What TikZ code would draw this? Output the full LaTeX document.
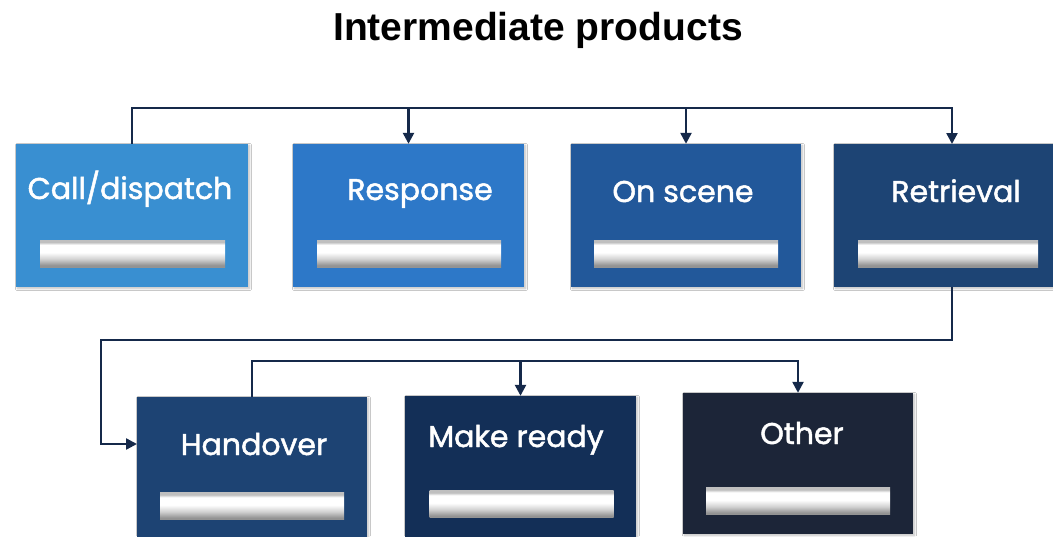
\documentclass[tikz,border=0pt]{standalone}
\usepackage{fontspec}
\setmainfont{Liberation Sans}
\newfontfamily\boxfont{Poppins}[FakeBold=1.6]
\usetikzlibrary{arrows.meta,shadows.blur}
\definecolor{cA}{HTML}{398FD1}
\definecolor{cB}{HTML}{2D78C8}
\definecolor{cC}{HTML}{22589A}
\definecolor{cD}{HTML}{1D4474}
\definecolor{cE}{HTML}{1D4373}
\definecolor{cF}{HTML}{132F57}
\definecolor{cG}{HTML}{1C2538}
\definecolor{conncol}{HTML}{15294A}
\pgfdeclareverticalshading{barshade}{100bp}{color(0bp)=(gray!85); color(28bp)=(gray!85); color(40bp)=(gray!35); color(52bp)=(white); color(66bp)=(white); color(71bp)=(gray!50); color(100bp)=(gray!50)}
\tikzset{
  box/.style={draw=none, inner sep=0pt, blur shadow={shadow xshift=1.5pt, shadow yshift=-1.5pt, shadow opacity=25, shadow blur steps=6}},
  lbl/.style={text=white, inner sep=0pt, anchor=base, font=\boxfont\fontsize{30}{34}\selectfont},
  bar/.style={draw=none, inner sep=0pt, minimum height=27pt, shading=barshade},
  conn/.style={draw=conncol, line width=2.4pt},
  tip/.style={-{Triangle[length=11pt,width=11pt]}}
}
\begin{document}
\begin{tikzpicture}[x=1pt,y=1pt]
\useasboundingbox[fill=white] (0,0) rectangle (1053,-536);
\node[inner sep=0pt, anchor=base, font=\bfseries\fontsize{39}{44}\selectfont] (title) at (538,-40) {Intermediate products};
% top row boxes
\node[box, fill=cA, minimum width=232pt, minimum height=143pt] (call) at (132,-215.5) {};
\node[box, fill=cB, minimum width=231pt, minimum height=143pt] (resp) at (408.5,-215.5) {};
\node[box, fill=cC, minimum width=230pt, minimum height=143pt] (onsc) at (686,-215.5) {};
\node[box, fill=cD, minimum width=222pt, minimum height=143pt] (retr) at (945,-215.5) {};
% bottom row boxes
\node[box, fill=cE, minimum width=230pt, minimum height=146pt] (hand) at (252,-470) {};
\node[box, fill=cF, minimum width=231pt, minimum height=147pt] (make) at (520.5,-469.5) {};
\node[box, fill=cG, minimum width=230pt, minimum height=141pt] (other) at (798,-463.5) {};
% labels
\node[lbl] (tcall) at (130,-199) {Call/dispatch};
\node[lbl] (tresp) at (420,-200) {Response};
\node[lbl] (tonsc) at (683,-202) {On scene};
\node[lbl] (tretr) at (956,-202) {Retrieval};
\node[lbl] (thand) at (254,-455) {Handover};
\node[lbl] (tmake) at (516,-447) {Make ready};
\node[lbl] (tother) at (802,-444) {Other};
% bars
\node[bar, minimum width=185pt] (bcall) at (132.5,-253.5) {};
\node[bar, minimum width=184pt] (bresp) at (409,-253.5) {};
\node[bar, minimum width=184pt] (bonsc) at (686,-253.5) {};
\node[bar, minimum width=180pt] (bretr) at (948,-253.5) {};
\node[bar, minimum width=184pt] (bhand) at (252,-506) {};
\node[bar, minimum width=184pt] (bmake) at (521.5,-504) {};
\node[bar, minimum width=184pt] (bother) at (798,-501) {};
% connector coordinates
\coordinate (topy) at (0,-108);
\coordinate (retrin) at (952,-144);
\coordinate (retrout) at (952,-287);
\coordinate (midy) at (101,-340);
\coordinate (handin) at (137,-444);
\coordinate (lowy) at (0,-361);
% connectors
\draw[conn, tip] (call.north) |- (retrin |- topy) -- (retrin);
\draw[conn, tip] (resp.north |- topy) -- (resp.north);
\draw[conn, tip] (onsc.north |- topy) -- (onsc.north);
\draw[conn, tip] (retrout) |- (midy) |- (handin);
\draw[conn, tip] (hand.north) |- (other.north |- lowy) -- (other.north);
\draw[conn, tip] (make.north |- lowy) -- (make.north);
\end{tikzpicture}
\end{document}
